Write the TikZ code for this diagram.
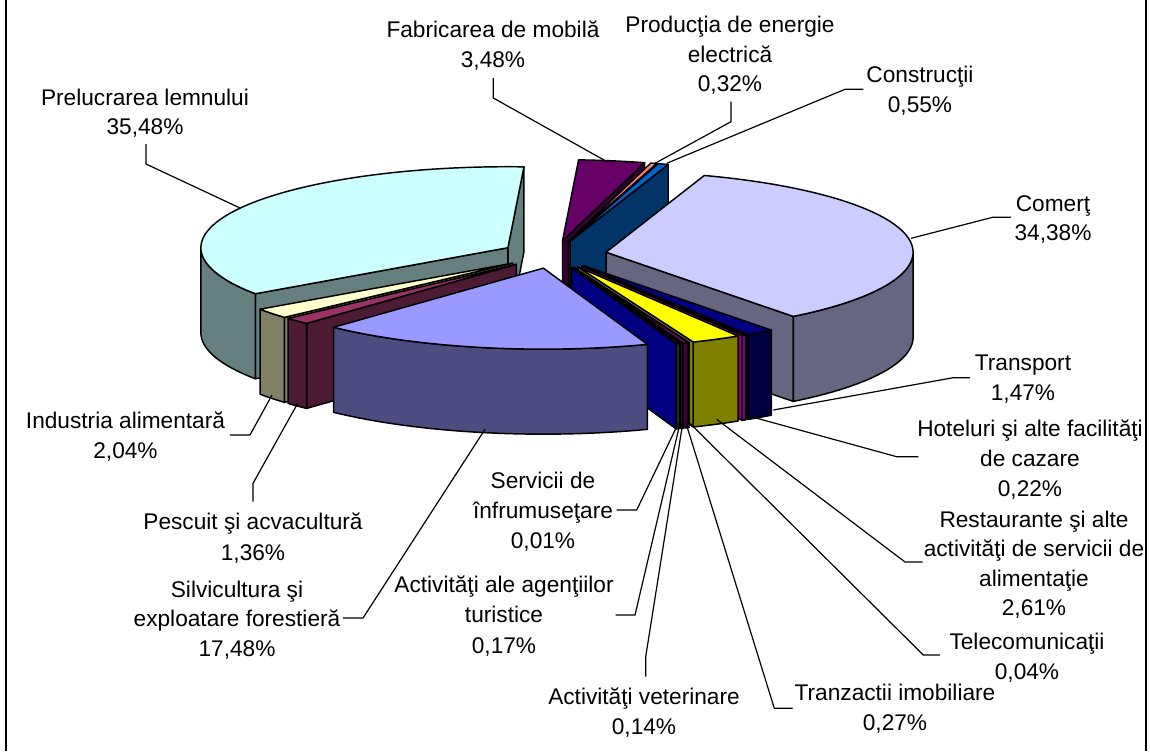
\documentclass[tikz,border=0pt]{standalone}
\usepackage{fontspec}
\setmainfont{Liberation Sans}
\definecolor{fabT}{HTML}{660066}\definecolor{fabS}{HTML}{330033}
\definecolor{proT}{HTML}{FF8080}\definecolor{proS}{HTML}{804040}
\definecolor{conT}{HTML}{0066CC}\definecolor{conS}{HTML}{003366}
\definecolor{preT}{HTML}{CCFFFF}\definecolor{preS}{HTML}{668080}
\definecolor{comT}{HTML}{CCCCFF}\definecolor{comS}{HTML}{666680}
\definecolor{indT}{HTML}{FFFFCC}\definecolor{indS}{HTML}{808066}
\definecolor{pesT}{HTML}{993366}\definecolor{pesS}{HTML}{4D1A33}
\definecolor{traT}{HTML}{000080}\definecolor{traS}{HTML}{000040}
\definecolor{hotT}{HTML}{FF00FF}\definecolor{hotS}{HTML}{800080}
\definecolor{resT}{HTML}{FFFF00}\definecolor{resS}{HTML}{808000}
\definecolor{telT}{HTML}{00FFFF}\definecolor{telS}{HTML}{008080}
\definecolor{tzT}{HTML}{800080}\definecolor{tzS}{HTML}{400040}
\definecolor{vetT}{HTML}{800000}\definecolor{vetS}{HTML}{400000}
\definecolor{turT}{HTML}{008080}\definecolor{turS}{HTML}{004040}
\definecolor{serT}{HTML}{0000FF}\definecolor{serS}{HTML}{000080}
\definecolor{silT}{HTML}{9999FF}\definecolor{silS}{HTML}{4C4C80}
\def\PA{307}\def\PB{81}\def\PH{85}\def\PE{0.172}\def\PCX{554}\def\PCY{254.5}
\newcommand{\setslice}[2]{%
  \pgfmathsetmacro\sx{\PCX+\PE*\PA*cos((#1+#2)/2)}%
  \pgfmathsetmacro\sy{\PCY-\PE*\PB*sin((#1+#2)/2)}}
\newcommand{\radialface}[2]{%
  \filldraw[pieedge,fill=#2] (\sx,\sy) -- ({\sx+\PA*cos(#1)},{\sy-\PB*sin(#1)})
    -- ({\sx+\PA*cos(#1)},{\sy-\PB*sin(#1)+\PH}) -- (\sx,{\sy+\PH}) -- cycle;}
\newcommand{\outerface}[3]{%
  \filldraw[pieedge,fill=#3] plot[domain=#1:#2,samples=50] ({\sx+\PA*cos(\x)},{\sy-\PB*sin(\x)})
    -- plot[domain=#2:#1,samples=50] ({\sx+\PA*cos(\x)},{\sy-\PB*sin(\x)+\PH}) -- cycle;}
\newcommand{\topface}[3]{%
  \filldraw[pieedge,fill=#3] (\sx,\sy) -- plot[domain=#1:#2,samples=80] ({\sx+\PA*cos(\x)},{\sy-\PB*sin(\x)}) -- cycle;}
\begin{document}
\begin{tikzpicture}[x=0.75pt,y=-0.75pt,
  pieedge/.style={draw=black,line width=1.1pt,line join=round},
  leader/.style={draw=black,line width=0.9pt},
  lbl/.style={inner sep=0pt,text height=12.2pt,text depth=0pt,font=\fontsize{17}{20}\selectfont}]
\useasboundingbox (0,0) rectangle (1150,751);
\fill[white] (0,0) rectangle (1150,751);
\draw[line width=1.4pt] (6,0) -- (6,751);
\draw[line width=1.4pt] (1146,0) -- (1146,751);
% ---------- pie slices (back to front) ----------
% Fabricarea de mobila
\setslice{74.472}{87}
\radialface{74.472}{fabS}
\topface{74.472}{87}{fabT}
% Productia de energie
\setslice{73.32}{74.472}
\radialface{73.32}{proS}
\topface{73.32}{74.472}{proT}
% Constructii
\setslice{71.34}{73.32}
\radialface{71.34}{conS}
\topface{71.34}{73.32}{conT}
% Prelucrarea lemnului
\setslice{87}{214.656}
\radialface{87}{preS}
\radialface{214.656}{preS}
\outerface{180}{214.656}{preS}
\topface{87}{214.656}{preT}
% Comert
\setslice{-52.428}{71.34}
\radialface{-52.428}{comS}
\outerface{-52.428}{0}{comS}
\topface{-52.428}{71.34}{comT}
% Industria alimentara
\setslice{-145.344}{-138}
\radialface{-138}{indS}
\outerface{-145.344}{-138}{indS}
\topface{-145.344}{-138}{indT}
% Pescuit
\setslice{-138}{-133.104}
\radialface{-133.104}{pesS}
\outerface{-138}{-133.104}{pesS}
\topface{-138}{-133.104}{pesT}
% Transport
\setslice{-57.72}{-52.428}
\radialface{-57.72}{traS}
\outerface{-57.72}{-52.428}{traS}
\topface{-57.72}{-52.428}{traT}
% Hoteluri
\setslice{-58.512}{-57.72}
\radialface{-58.512}{hotS}
\outerface{-58.512}{-57.72}{hotS}
\topface{-58.512}{-57.72}{hotT}
% Restaurante
\setslice{-67.908}{-58.512}
\radialface{-67.908}{resS}
\outerface{-67.908}{-58.512}{resS}
\topface{-67.908}{-58.512}{resT}
% Telecomunicatii
\setslice{-68.052}{-67.908}
\radialface{-68.052}{telS}
\outerface{-68.052}{-67.908}{telS}
\topface{-68.052}{-67.908}{telT}
% Tranzactii imobiliare
\setslice{-69.024}{-68.052}
\radialface{-69.024}{tzS}
\outerface{-69.024}{-68.052}{tzS}
\topface{-69.024}{-68.052}{tzT}
% Activitati veterinare
\setslice{-69.528}{-69.024}
\radialface{-69.528}{vetS}
\outerface{-69.528}{-69.024}{vetS}
\topface{-69.528}{-69.024}{vetT}
% Agentii turistice
\setslice{-70.14}{-69.528}
\radialface{-70.14}{turS}
\outerface{-70.14}{-69.528}{turS}
\topface{-70.14}{-69.528}{turT}
% Servicii de infrumusetare
\setslice{-70.176}{-70.14}
\radialface{-70.176}{serS}
\outerface{-70.176}{-70.14}{serS}
\topface{-70.176}{-70.14}{serT}
% Silvicultura
\setslice{-133.104}{-70.176}
\outerface{-133.104}{-70.176}{silS}
\topface{-133.104}{-70.176}{silT}
% ---------- labels ----------
\node[lbl] (fab1) at (493,29.5) {Fabricarea de mobilă};
\node[lbl] (fab2) at (493,59.3) {3,48\%};
\node[lbl] (pro1) at (730,24) {Producţia de energie};
\node[lbl] (pro2) at (730,54) {electrică};
\node[lbl] (pro3) at (730,83.5) {0,32\%};
\node[lbl] (con1) at (920,74) {Construcţii};
\node[lbl] (con2) at (920,104) {0,55\%};
\node[lbl] (com1) at (1053,203) {Comerţ};
\node[lbl] (com2) at (1053,232) {34,38\%};
\node[lbl] (tra1) at (1023,362.7) {Transport};
\node[lbl] (tra2) at (1023,392.7) {1,47\%};
\node[lbl] (hot1) at (1030,428.3) {Hoteluri şi alte facilităţi};
\node[lbl] (hot2) at (1030,458.3) {de cazare};
\node[lbl] (hot3) at (1030,488.3) {0,22\%};
\node[lbl] (res1) at (1034,519) {Restaurante şi alte};
\node[lbl] (res2) at (1034,548.5) {activităţi de servicii de};
\node[lbl] (res3) at (1034,578) {alimentaţie};
\node[lbl] (res4) at (1034,607.5) {2,61\%};
\node[lbl] (tel1) at (1027,641.7) {Telecomunicaţii};
\node[lbl] (tel2) at (1027,671) {0,04\%};
\node[lbl] (tz1) at (895,692.7) {Tranzactii imobiliare};
\node[lbl] (tz2) at (895,722) {0,27\%};
\node[lbl] (vet1) at (644,696) {Activităţi veterinare};
\node[lbl] (vet2) at (644,726) {0,14\%};
\node[lbl] (tur1) at (504,584.3) {Activităţi ale agenţiilor};
\node[lbl] (tur2) at (504,614.3) {turistice};
\node[lbl] (tur3) at (504,645) {0,17\%};
\node[lbl] (ser1) at (543,480.7) {Servicii de};
\node[lbl] (ser2) at (543,510) {înfrumuseţare};
\node[lbl] (ser3) at (543,540) {0,01\%};
\node[lbl] (sil1) at (237,589) {Silvicultura şi};
\node[lbl] (sil2) at (237,618) {exploatare forestieră};
\node[lbl] (sil3) at (237,648) {17,48\%};
\node[lbl] (pes1) at (253,521.7) {Pescuit şi acvacultură};
\node[lbl] (pes2) at (253,552.7) {1,36\%};
\node[lbl] (ind1) at (125.5,420) {Industria alimentară};
\node[lbl] (ind2) at (125.5,450) {2,04\%};
\node[lbl] (pre1) at (145,97.3) {Prelucrarea lemnului};
\node[lbl] (pre2) at (145,126.7) {35,48\%};
% ---------- leader lines ----------
\coordinate (fabA) at (493.3,78);   \coordinate (fabB) at (493.3,98);   \coordinate (fabP) at (607,161.7);
\coordinate (proA) at (731,101.7);  \coordinate (proB) at (731,121.7);  \coordinate (proP) at (655,163.3);
\coordinate (conA) at (863.3,89.3); \coordinate (conB) at (845,89.3);   \coordinate (conP) at (666.7,163.3);
\coordinate (comA) at (1011,217.3); \coordinate (comB) at (992.7,217.3);\coordinate (comP) at (911,238.3);
\coordinate (traA) at (970,377.7);  \coordinate (traB) at (953.3,377.7);\coordinate (traP) at (773.3,410);
\coordinate (hotA) at (918.3,456.7);\coordinate (hotB) at (896.7,456.7);\coordinate (hotP) at (745,415);
\coordinate (resA) at (922.7,562);  \coordinate (resB) at (905,562);    \coordinate (resP) at (716.7,419.3);
\coordinate (telA) at (940,655);    \coordinate (telB) at (923.3,655);  \coordinate (telP) at (688.3,421.7);
\coordinate (tzA) at (792.7,708.3); \coordinate (tzB) at (774.3,708.3); \coordinate (tzP) at (686,423.3);
\coordinate (vetA) at (645.7,676.7);\coordinate (vetB) at (645.7,656.7);\coordinate (vetP) at (682.7,423.3);
\coordinate (turA) at (615.7,615);  \coordinate (turB) at (635,615);    \coordinate (turP) at (680,423.3);
\coordinate (serA) at (616.7,510);  \coordinate (serB) at (636.7,510);  \coordinate (serP) at (678.3,423.3);
\coordinate (silA) at (343,618);    \coordinate (silB) at (363,618);    \coordinate (silP) at (485,429.3);
\coordinate (pesA) at (253,501.7);  \coordinate (pesB) at (253,483.3);  \coordinate (pesP) at (297.7,403.3);
\coordinate (indA) at (230,435);    \coordinate (indB) at (250,435);    \coordinate (indP) at (272,395);
\coordinate (preA) at (146,144);    \coordinate (preB) at (146,164);    \coordinate (preP) at (240,208);
\foreach \n in {fab,pro,con,com,tra,hot,res,tel,tz,vet,tur,ser,sil,pes,ind,pre}
  {\draw[leader] (\n A) -- (\n B) -- (\n P);}
\end{tikzpicture}
\end{document}
